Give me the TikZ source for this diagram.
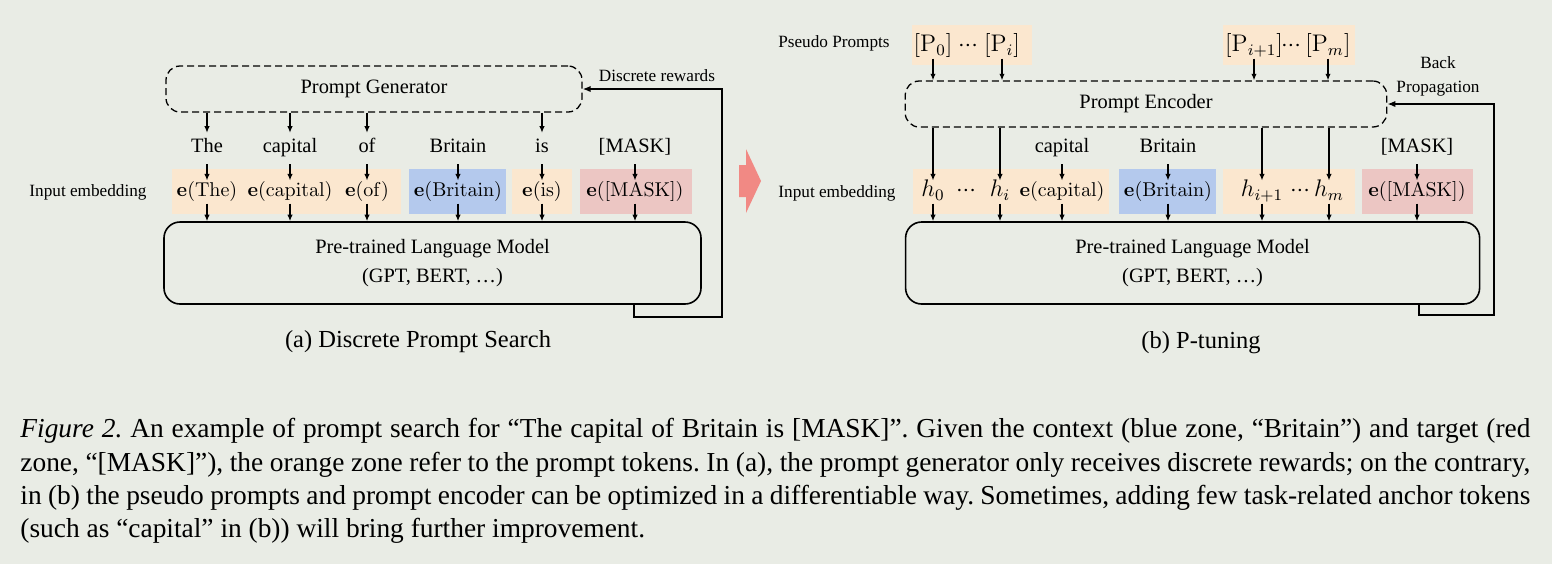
\documentclass[tikz,border=0pt]{standalone}
\usepackage[no-math]{fontspec}
\setmainfont{Liberation Serif}
\usepackage{amsmath}
\definecolor{bgpaper}{RGB}{233,236,229}
\definecolor{zoneorange}{RGB}{251,231,207}
\definecolor{zoneblue}{RGB}{180,201,237}
\definecolor{zonered}{RGB}{236,198,195}
\definecolor{bigpink}{RGB}{241,137,132}
\usepackage{tikz}
\usetikzlibrary{arrows.meta,positioning}
\newcommand{\tdots}{\mathord{\cdot}\mathord{\cdot}\mathord{\cdot}}

\begin{document}
\begin{tikzpicture}[x=0.5pt, y=-0.5pt,
  zone/.style={minimum height=22.5pt, inner sep=0pt},
  tok/.style={font=\fontsize{10.2}{12}\selectfont, text height=6.8pt,
    text depth=2.5pt, inner xsep=1pt, inner ysep=3pt},
  emb/.style={font=\fontsize{10.2}{12}\selectfont, text height=7.5pt,
    text depth=2.6pt, inner xsep=0pt, inner ysep=0.5pt},
  hemb/.style={emb, font=\fontsize{11.5}{13}\selectfont},
  genbox/.style={draw, dash pattern=on 3.5pt off 2pt, line width=0.65pt,
    rounded corners=7pt, minimum height=23pt, font=\fontsize{10.2}{12}\selectfont},
  lmbox/.style={draw, line width=0.8pt, rounded corners=8pt, minimum height=41pt,
    align=center, font=\fontsize{10.2}{14.5}\selectfont},
  arr/.style={-{Latex[length=3.3pt,width=2.7pt]}, line width=0.6pt},
  fb/.style={-{Latex[length=4pt,width=3.2pt]}, line width=0.75pt},
  note/.style={font=\fontsize{8.6}{11}\selectfont, align=center},
  subcap/.style={font=\fontsize{12.25}{14}\selectfont}]

\fill[bgpaper] (0,0) rectangle (1552,564);
\useasboundingbox (0,0) rectangle (1552,564);

% (a) Discrete prompt search
\node[genbox, minimum width=208pt] (pgen) at (374,89) {Prompt Generator};
\node[note] (rewlbl) at (657,76) {Discrete rewards};
\node[note] (inpA) at (88,192) {Input embedding};

\node[zone, fill=zoneorange, minimum width=114.5pt] (zA1) at (286.5,191.5) {};
\node[zone, fill=zoneblue, minimum width=48.5pt] (zA2) at (457.5,191.5) {};
\node[zone, fill=zoneorange, minimum width=30pt] (zA3) at (542,191.5) {};
\node[zone, fill=zonered, minimum width=56pt] (zA4) at (635.5,191.5) {};

\node[tok] (tThe) at (207,148.5) {The};
\node[tok] (tCap) at (290,148.5) {capital};
\node[tok] (tOf) at (367,148.5) {of};
\node[tok] (tBri) at (458,148.5) {Britain};
\node[tok] (tIs) at (542,148.5) {is};
\node[tok] (tMask) at (635,148.5) {[MASK]};

\node[emb] (eThe) at (207,192) {$\mathbf{e}(\mathrm{The})$};
\node[emb] (eCap) at (290,192) {$\mathbf{e}(\mathrm{capital})$};
\node[emb] (eOf) at (367,192) {$\mathbf{e}(\mathrm{of})$};
\node[emb] (eBri) at (458,192) {$\mathbf{e}(\mathrm{Britain})$};
\node[emb] (eIs) at (542,192) {$\mathbf{e}(\mathrm{is})$};
\node[emb] (eMask) at (635,192) {$\mathbf{e}([\mathrm{MASK}])$};

\node[lmbox, minimum width=268.5pt] (plmA) at (432.5,263)
  {Pre-trained Language Model\\(GPT, BERT, …)};
\node[subcap] (capA) at (418,342) {(a) Discrete Prompt Search};

\foreach \t in {tThe,tCap,tOf,tIs}
  \draw[arr] (\t.north |- pgen.south) -- (\t.north);
\foreach \t/\e in {tThe/eThe,tCap/eCap,tOf/eOf,tBri/eBri,tIs/eIs,tMask/eMask}
  \draw[arr] (\t.south) -- (\t.south |- \e.north);
\foreach \e in {eThe,eCap,eOf,eBri,eIs,eMask}
  \draw[arr] (\e.south) -- (\e.south |- plmA.north);

\coordinate (rwA1) at (634,317);
\coordinate (rwA2) at (722,317);
\draw[fb] (rwA1 |- plmA.south) -- (rwA1) -- (rwA2) |- (pgen.east);

% big arrow between panels
\fill[bigpink] (739,165) -- (746,165) -- (746,149) -- (761,181)
  -- (746,213) -- (746,197) -- (739,197) -- cycle;

% (b) P-tuning
\node[note] (pseu) at (834,43) {Pseudo Prompts};
\node[note] (inpB) at (837,193) {Input embedding};
\node[note] (bplbl) at (1438,76) {Back\\[1pt]Propagation};

\node[zone, fill=zoneorange, minimum width=60pt, minimum height=20pt] (zP1) at (971.6,45) {};
\node[zone, fill=zoneorange, minimum width=66pt, minimum height=20pt] (zP2) at (1289,45) {};

\node[hemb] (pP0) at (933,47) {$[\mathrm{P}_0]$};
\node[hemb] (pDa) at (968,47) {$\tdots$};
\node[hemb] (pPi) at (1002,47) {$[\mathrm{P}_i]$};
\node[hemb] (pPip) at (1254,47) {$[\mathrm{P}_{i+1}]$};
\node[hemb] (pDb) at (1291,47) {$\tdots$};
\node[hemb] (pPm) at (1328,47) {$[\mathrm{P}_m]$};

\node[genbox, minimum width=240.75pt] (penc) at (1146,104) {Prompt Encoder};

\node[zone, fill=zoneorange, minimum width=98pt] (zB1) at (1010.5,191.5) {};
\node[zone, fill=zoneblue, minimum width=48.7pt] (zB2) at (1167.3,191.5) {};
\node[zone, fill=zoneorange, minimum width=66pt] (zB3) at (1289,191.5) {};
\node[zone, fill=zonered, minimum width=55.5pt] (zB4) at (1417,191.5) {};

\node[tok] (rCap) at (1062,148.5) {capital};
\node[tok] (rBri) at (1168,148.5) {Britain};
\node[tok] (rMask) at (1417,148.5) {[MASK]};

\node[hemb] (hH0) at (933,192) {$h_0$};
\node[hemb] (hDa) at (966,192) {$\tdots$};
\node[hemb] (hHi) at (1000,192) {$h_i$};
\node[emb] (eCapR) at (1062,192) {$\mathbf{e}(\mathrm{capital})$};
\node[emb] (eBriR) at (1168,192) {$\mathbf{e}(\mathrm{Britain})$};
\node[hemb] (hHip) at (1262,192) {$h_{i+1}$};
\node[hemb] (hDb) at (1300,192) {$\tdots$};
\node[hemb] (hHm) at (1329,192) {$h_m$};
\node[emb] (eMaskR) at (1417,192) {$\mathbf{e}([\mathrm{MASK}])$};

\node[lmbox, minimum width=287pt] (plmB) at (1192.6,263)
  {Pre-trained Language Model\\(GPT, BERT, …)};
\node[subcap] (capB) at (1201,343) {(b) P-tuning};

\foreach \p in {pP0,pPi,pPip,pPm}
  \draw[arr] (\p.south) -- (\p.south |- penc.north);
\foreach \h in {hH0,hHi,hHip,hHm}
  \draw[arr] (\h.north |- penc.south) -- (\h.north);
\foreach \t/\e in {rCap/eCapR,rBri/eBriR,rMask/eMaskR}
  \draw[arr] (\t.south) -- (\t.south |- \e.north);
\foreach \e in {hH0,hHi,eCapR,eBriR,hHip,hHm,eMaskR}
  \draw[arr] (\e.south) -- (\e.south |- plmB.north);

\coordinate (bpB1) at (1419,315);
\coordinate (bpB2) at (1494,315);
\draw[fb] (bpB1 |- plmB.south) -- (bpB1) -- (bpB2) |- (penc.east);

% caption
\node[anchor=north west, text width=755pt, align=justify, inner sep=0pt,
  font=\fontsize{13.7}{16.7}\selectfont\frenchspacing] (figcap) at (20,418)
  {\textit{Figure 2.} An example of prompt search for ``The capital of Britain is [MASK]''. Given the context (blue zone, ``Britain'') and target (red\linebreak
  zone, ``[MASK]''), the orange zone refer to the prompt tokens. In (a), the prompt generator only receives discrete rewards; on the contrary,\linebreak
  in (b) the pseudo prompts and prompt encoder can be optimized in a differentiable way. Sometimes, adding few task-related anchor tokens\linebreak
  (such as ``capital'' in (b)) will bring further improvement.};

\end{tikzpicture}
\end{document}
